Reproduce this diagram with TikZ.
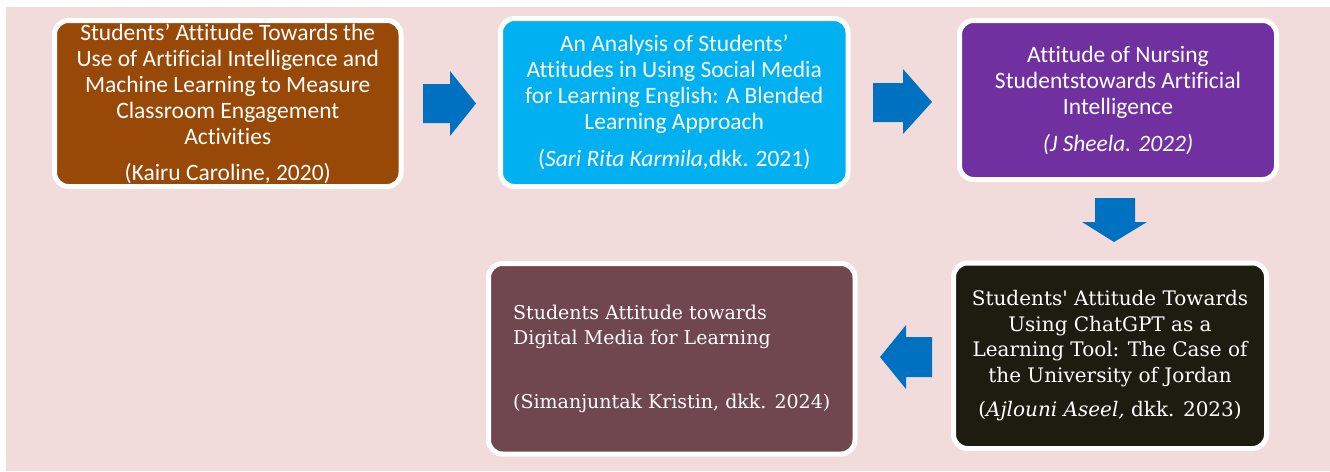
\documentclass[tikz,border=0pt]{standalone}
\usepackage{fontspec}
\setmainfont{Carlito}[Ligatures=NoCommon]
\newfontfamily\cambriaface{DejaVu Serif}
\definecolor{pinkbg}{HTML}{F2DCDB}
\definecolor{brownbox}{HTML}{984807}
\definecolor{cyanbox}{HTML}{00B0F0}
\definecolor{purplebox}{HTML}{7030A0}
\definecolor{darkbox}{HTML}{1E1C11}
\definecolor{mauvebox}{HTML}{70474F}
\definecolor{arrowblue}{HTML}{0070C0}
\tikzset{
  paper/.style={draw=white, line width=5pt, rounded corners=14pt, text=white, inner sep=0pt},
  sanstext/.style={font=\fontsize{23.5}{26}\selectfont, align=center},
  seriftext/.style={font=\cambriaface\fontsize{20}{25.5}\selectfont, align=center},
  blockarrow/.style={fill=arrowblue}
}
\begin{document}
\begin{tikzpicture}[x=1pt,y=-1pt]
        \useasboundingbox (0,0) rectangle (1330,471);
        \fill[white] (0,0) rectangle (1330,471);
        \fill[pinkbg] (6,7) rectangle (1330,471);
        % top row
        \node[paper, sanstext, fill=brownbox, minimum width=346.5pt, minimum height=166pt] (kairu) at (227.75,103.5)
            {Students’ Attitude Towards the\\Use of Artificial Intelligence and\\Machine Learning to Measure\\Classroom Engagement\\Activities\\[10pt](Kairu Caroline, 2020)};
        \node[paper, sanstext, fill=cyanbox, minimum width=347.5pt, minimum height=168pt] (sari) at (674.25,102.5)
            {An Analysis of Students’\\Attitudes in Using Social Media\\for Learning English: A Blended\\Learning Approach\\[11pt](\textit{Sari Rita Karmila,}dkk. 2021)};
        \node[paper, sanstext, fill=purplebox, minimum width=317pt, minimum height=159pt] (sheela) at (1118,100)
            {Attitude of Nursing\\Studentstowards Artificial\\Intelligence\\[11pt]\textit{(J Sheela. 2022)}};
        % bottom row
        \node[paper, seriftext, fill=darkbox, minimum width=313pt, minimum height=185.5pt] (ajlouni) at (1110,355.75)
            {Students' Attitude Towards\\Using ChatGPT as a\\Learning Tool: The Case of\\the University of Jordan\\[8.5pt](\textit{Ajlouni Aseel,} dkk. 2023)};
        \node[paper, seriftext, align=left, font=\cambriaface\fontsize{19}{25}\selectfont, fill=mauvebox, minimum width=366.5pt, minimum height=190.5pt] (kristin) at (671.75,358.75)
            {Students Attitude towards\\Digital Media for Learning\\[39pt](Simanjuntak Kristin, dkk. 2024)};
        % block arrows
        \fill[blockarrow] (423,84) -- (450,84) -- (450,71) -- (476,103.5) -- (450,136) -- (450,123) -- (423,123) -- cycle;
        \fill[blockarrow] (873,83) -- (903,83) -- (903,69) -- (932,102) -- (903,134) -- (903,122) -- (873,122) -- cycle;
        \fill[blockarrow] (1095,198) -- (1135,198) -- (1135,222) -- (1147,222) -- (1114,242) -- (1082,222) -- (1095,222) -- cycle;
        \fill[blockarrow] (932,337) -- (906,337) -- (906,325) -- (880,357) -- (906,389) -- (906,377) -- (932,377) -- cycle;
\end{tikzpicture}
\end{document}
